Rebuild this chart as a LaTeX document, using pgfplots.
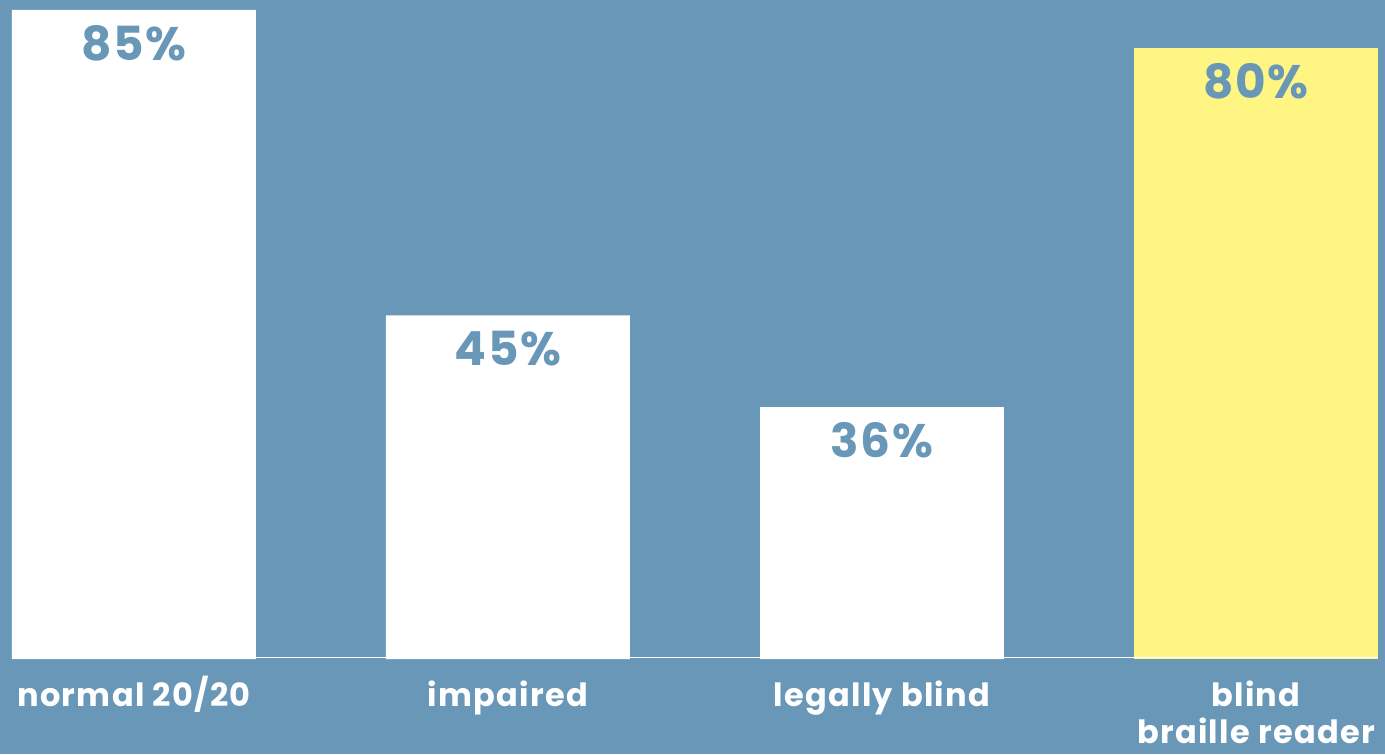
\documentclass[border=0pt]{standalone}
\usepackage{fontspec}
\setmainfont{Poppins}
\newfontfamily\labfont[LetterSpace=4]{Poppins}
\usepackage{pgfplots}
\pgfplotsset{compat=1.18}
\definecolor{bg}{HTML}{6897B7}
\definecolor{yel}{HTML}{FFF583}
\pgfplotstableread{
x y label
0 85 85\%
1 45 45\%
2 33 36\%
}\whitebars
\pgfplotstableread{
x y label
3 80 80\%
}\yellowbars
\begin{document}
\begin{tikzpicture}
\begin{axis}[
  scale only axis, width=692.5pt, height=377pt,
  xmin=-0.358, xmax=3.345, ymin=-12.44, ymax=86.31,
  axis background/.style={fill=bg},
  axis line style={draw=none},
  xtick=\empty, ytick=\empty,
  clip=false,
  point meta=explicit symbolic,
  nodes near coords,
  nodes near coords style={anchor=center, yshift=-16.5pt, text=bg, font=\labfont\bfseries\fontsize{23.5}{26}\selectfont},
]
\addplot[ybar, bar shift=0pt, bar width=0.652, fill=white, draw=none] table[x=x, y=y, meta=label] {\whitebars};
\addplot[ybar, bar shift=0pt, bar width=0.652, fill=yel, draw=none] table[x=x, y=y, meta=label] {\yellowbars};
\draw[white, line width=0.6pt] (axis cs:-0.326,0.15) -- (axis cs:3.326,0.15);
\begin{scope}[every node/.style={white, anchor=base, inner sep=0pt, font=\labfont\bfseries\fontsize{16}{20}\selectfont}]
\node at (axis cs:0,0) [yshift=-23.5pt] {normal 20/20};
\node at (axis cs:1,0) [yshift=-23.5pt] {impaired};
\node at (axis cs:2,0) [yshift=-23.5pt] {legally blind};
\node at (axis cs:3,0) [yshift=-23.5pt] {blind};
\node at (axis cs:3,0) [yshift=-42pt] {braille reader};
\end{scope}
\end{axis}
\end{tikzpicture}
\end{document}
